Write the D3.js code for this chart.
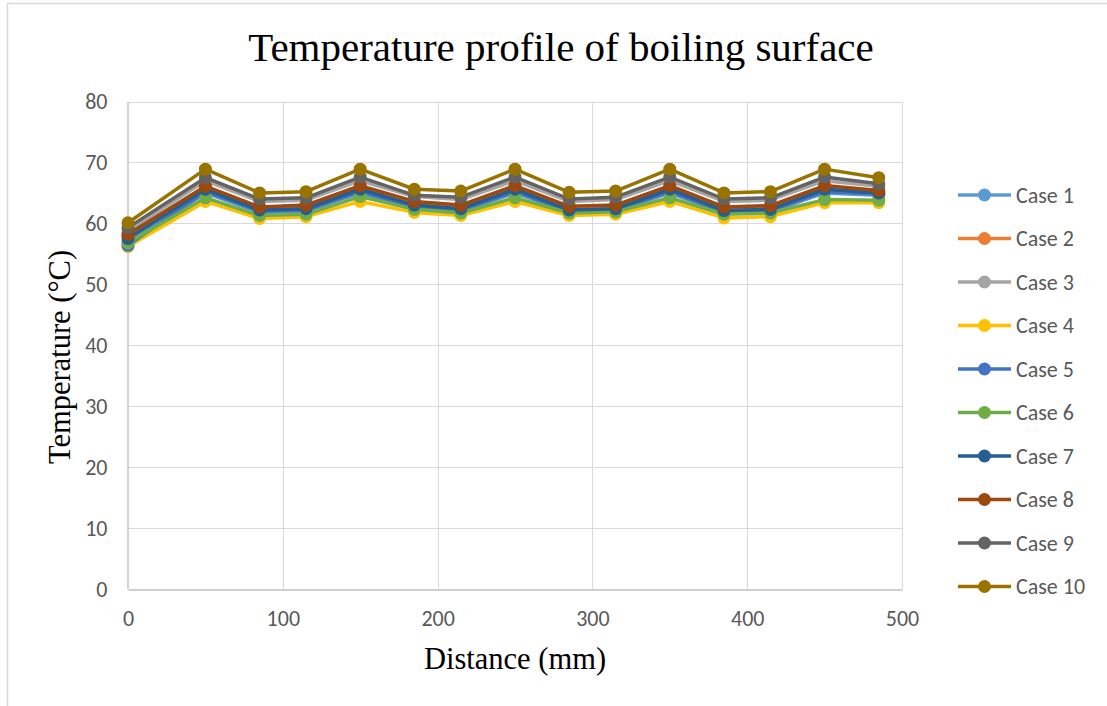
<!DOCTYPE html>
<html>
<head>
<meta charset="utf-8">
<script src="https://cdn.jsdelivr.net/npm/d3@7"></script>
<style>
  html, body { margin: 0; padding: 0; background: #fff; }
  svg { display: block; }
</style>
</head>
<body>
<svg id="chart" width="1107" height="706"></svg>
<script>
const distances = [0, 50, 85, 115, 150, 185, 215, 250, 285, 315, 350, 385, 415, 450, 485];
const caseNames = ["Case 1", "Case 2", "Case 3", "Case 4", "Case 5", "Case 6", "Case 7", "Case 8", "Case 9", "Case 10"];
const case1  = [57.0, 65.0, 61.8, 62.0, 65.0, 62.5, 62.0, 65.0, 61.8, 62.0, 65.0, 61.7, 61.9, 65.0, 64.6];
const case2  = [57.9, 65.9, 62.5, 62.7, 65.9, 63.3, 62.7, 65.9, 62.5, 62.7, 65.9, 62.4, 62.6, 65.9, 65.2];
const case3  = [58.8, 67.0, 63.6, 63.8, 67.0, 64.4, 63.9, 67.0, 63.6, 63.9, 67.0, 63.6, 63.8, 67.0, 66.1];
const case4  = [56.2, 63.6, 60.8, 61.1, 63.6, 61.8, 61.3, 63.6, 61.3, 61.5, 63.6, 60.9, 61.1, 63.4, 63.4];
const case5  = [56.4, 65.2, 62.0, 62.2, 65.2, 62.7, 62.2, 65.2, 62.0, 62.2, 65.2, 61.9, 62.1, 65.2, 64.8];
const case6  = [56.8, 64.2, 61.3, 61.5, 64.4, 62.3, 61.7, 64.2, 61.7, 61.9, 64.2, 61.5, 61.7, 63.9, 63.8];
const case7  = [57.5, 65.6, 62.2, 62.4, 65.6, 63.0, 62.4, 65.6, 62.2, 62.4, 65.6, 62.1, 62.3, 65.6, 65.0];
const case8  = [58.2, 66.1, 62.7, 63.0, 66.2, 63.6, 63.0, 66.2, 62.8, 63.0, 66.2, 62.7, 62.9, 66.2, 65.4];
const case9  = [59.3, 67.5, 64.0, 64.2, 67.6, 64.6, 64.3, 67.6, 64.0, 64.3, 67.6, 64.0, 64.2, 67.6, 66.5];
const case10 = [60.1, 68.9, 65.0, 65.2, 68.9, 65.6, 65.3, 68.9, 65.1, 65.3, 68.9, 65.0, 65.2, 68.9, 67.5];
const caseValues = [case1, case2, case3, case4, case5, case6, case7, case8, case9, case10];
const caseColors = ["#5B9BD5", "#ED7D31", "#A5A5A5", "#FFC000", "#4472C4", "#70AD47", "#255E91", "#9E480E", "#636363", "#997300"];
const xTicks = [0, 100, 200, 300, 400, 500];
const yTicks = [0, 10, 20, 30, 40, 50, 60, 70, 80];

const svg = d3.select("#chart");
const sansFont = "Carlito, Calibri, 'Liberation Sans', Arial, sans-serif";
const serifFont = "'Liberation Serif', 'Times New Roman', serif";

// outer chart border
svg.append("rect").attr("x", 7.5).attr("y", 3.5).attr("width", 1120).attr("height", 720)
  .attr("fill", "#fff").attr("stroke", "#d9d9d9").attr("stroke-width", 1.5);

const plot = { left: 128, right: 902, top: 101.5, bottom: 589 };
const x = d3.scaleLinear().domain([0, 500]).range([plot.left, plot.right]);
const y = d3.scaleLinear().domain([0, 80]).range([plot.bottom, plot.top]);

// gridlines
const grid = svg.append("g");
grid.selectAll("line.h").data(yTicks.filter(d => d > 0)).join("line")
  .attr("x1", plot.left).attr("x2", plot.right)
  .attr("y1", d => Math.round(y(d)) + 0.5).attr("y2", d => Math.round(y(d)) + 0.5)
  .attr("stroke", "#d9d9d9").attr("stroke-width", 1);
grid.selectAll("line.v").data(xTicks.filter(d => d > 0)).join("line")
  .attr("x1", d => Math.round(x(d)) + 0.5).attr("x2", d => Math.round(x(d)) + 0.5)
  .attr("y1", plot.top).attr("y2", plot.bottom)
  .attr("stroke", "#d9d9d9").attr("stroke-width", 1);

// axes
const xAxis = svg.append("g").attr("transform", `translate(0,${Math.round(plot.bottom) + 0.5})`)
  .call(d3.axisBottom(x).tickValues(xTicks).tickSize(0).tickPadding(21).tickFormat(d3.format("d")));
const yAxis = svg.append("g").attr("transform", `translate(${plot.left - 0.5},0)`)
  .call(d3.axisLeft(y).tickValues(yTicks).tickSize(0).tickPadding(20).tickFormat(d3.format("d")));
[xAxis, yAxis].forEach(a => {
  a.select(".domain").attr("stroke", "#bfbfbf").attr("stroke-width", 1.3);
  a.selectAll("text").attr("fill", "#595959").attr("font-family", sansFont)
    .attr("font-size", 22);
});

// series
const line = d3.line().x((d, i) => x(distances[i])).y(d => y(d));
const series = svg.append("g");
caseValues.forEach((vals, k) => {
  const g = series.append("g");
  g.append("path").datum(vals).attr("d", line).attr("fill", "none")
    .attr("stroke", caseColors[k]).attr("stroke-width", 3.5).attr("stroke-linejoin", "round");
  g.selectAll("circle").data(vals).join("circle")
    .attr("cx", (d, i) => x(distances[i])).attr("cy", d => y(d)).attr("r", 6.5)
    .attr("fill", caseColors[k]);
});

// legend
const legend = svg.append("g");
caseNames.forEach((name, k) => {
  const ly = 195 + k * 43.5;
  legend.append("line").attr("x1", 958).attr("x2", 1011).attr("y1", ly).attr("y2", ly)
    .attr("stroke", caseColors[k]).attr("stroke-width", 3.5);
  legend.append("circle").attr("cx", 984.5).attr("cy", ly).attr("r", 6.5).attr("fill", caseColors[k]);
  legend.append("text").attr("x", 1016).attr("y", ly).attr("dy", "0.35em")
    .attr("fill", "#595959").attr("font-family", sansFont)
    .attr("font-size", 22).text(name);
});

// titles
svg.append("text").attr("x", 561).attr("y", 61).attr("text-anchor", "middle")
  .attr("font-family", serifFont).attr("font-size", 41)
  .attr("fill", "#000").text("Temperature profile of boiling surface");
svg.append("text").attr("x", 515).attr("y", 669).attr("text-anchor", "middle")
  .attr("font-family", serifFont).attr("font-size", 30.5)
  .attr("fill", "#000").text("Distance (mm)");
svg.append("text").attr("transform", "translate(70,357) rotate(-90)").attr("text-anchor", "middle")
  .attr("font-family", serifFont).attr("font-size", 30.5)
  .attr("fill", "#000").text("Temperature (°C)");
</script>
</body>
</html>
